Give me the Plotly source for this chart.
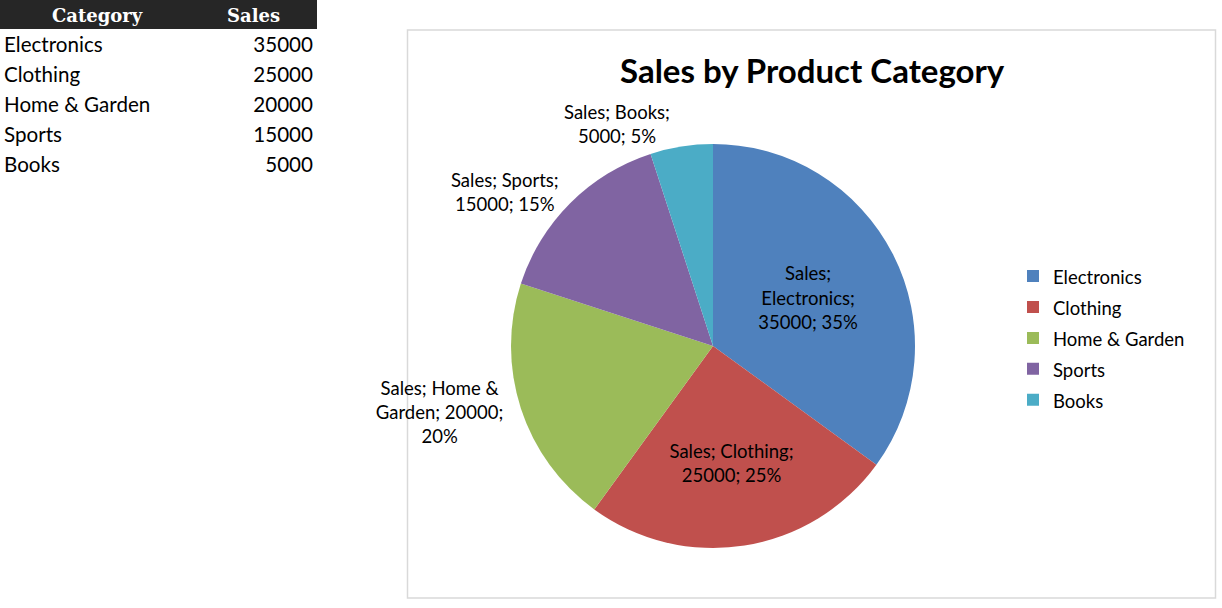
import textwrap
import plotly.graph_objects as go

categories = ["Electronics", "Clothing", "Home & Garden", "Sports", "Books"]
sales = [35000, 25000, 20000, 15000, 5000]
series_name = "Sales"
col_headers = ["Category", "Sales"]
colors = ["#4F81BD", "#C0504D", "#9BBB59", "#8064A2", "#4BACC6"]

# excel-ish data labels: "Sales; Cat; value; pct", wrapped per slice
wrap_widths = [12, 16, 14, 15, 14]
total = sum(sales)
labels_txt = []
for c, v, w in zip(categories, sales, wrap_widths):
    s = "%s; %s; %d; %d%%" % (series_name, c, v, round(100 * v / total))
    labels_txt.append("<br>".join(textwrap.wrap(s, w)))

# legend rows are taller than the text in excel -> big legend font, smaller span
legend_names = ["<span style='font-size:18.5px'>%s</span>" % c for c in categories]

W, H = 1222, 608
ROW = 30  # sheet row height, px
TOP = 32  # where the first sheet row starts
lbl_font = dict(family="Lato", size=18.5, color="black")
cell_font = dict(family="Lato", size=20.6, color="black")

pie = go.Pie(
    labels=legend_names, values=sales, text=labels_txt,
    textinfo="text", sort=False, direction="clockwise", rotation=0,
    marker=dict(colors=colors, line=dict(width=0)),
    textposition=["inside", "inside", "outside", "outside", "outside"],
    insidetextorientation="horizontal",
    textfont=lbl_font, outsidetextfont=lbl_font, insidetextfont=lbl_font,
    domain=dict(x=[(713 - 202) / W, (713 + 202) / W],
                y=[(H - 346 - 202) / H, (H - 346 + 202) / H]),
    hovertemplate="%{text}<extra></extra>",
)

# worksheet cells as text on a hidden axis (one unit = one sheet row)
rows = list(range(len(categories)))
names_tr = go.Scatter(x=[4] * len(rows), y=rows, text=categories, mode="text",
                      textposition="middle right", textfont=cell_font,
                      showlegend=False, hoverinfo="skip")
vals_tr = go.Scatter(x=[313] * len(rows), y=rows, text=[str(v) for v in sales],
                     mode="text", textposition="middle left", textfont=cell_font,
                     showlegend=False, hoverinfo="skip")

fig = go.Figure(data=[names_tr, vals_tr, pie])
n_rows = (H - TOP) / ROW
fig.update_layout(
    width=W, height=H,
    margin=dict(l=0, r=0, t=0, b=0),
    paper_bgcolor="white", plot_bgcolor="white",
    showlegend=True,
    legend=dict(x=1013 / W, y=1 - 338 / H, xanchor="left", yanchor="middle",
                font=dict(family="Lato", size=21.5, color="black")),
    xaxis=dict(domain=[0, 317 / W], range=[0, 317], visible=False, fixedrange=True),
    yaxis=dict(domain=[0, 1 - TOP / H], range=[n_rows - 0.5, -0.5], visible=False,
               fixedrange=True),
)

# header bar of the sheet table
fig.add_shape(type="rect", xref="paper", yref="paper",
              x0=0, x1=317 / W, y0=1 - 29 / H, y1=1,
              fillcolor="#262626", line=dict(width=0))
for name, cx in zip(col_headers, [97, 254]):
    fig.add_annotation(text="<b>%s</b>" % name, xref="paper", yref="paper",
                       x=cx / W, y=1 - 15 / H, xanchor="center", yanchor="middle",
                       showarrow=False,
                       font=dict(family="DejaVu Serif", size=18, color="white"))

# chart area border
fig.add_shape(type="rect", xref="paper", yref="paper",
              x0=407.5 / W, x1=1215.5 / W, y0=1 - 598 / H, y1=1 - 30 / H,
              line=dict(color="#D9D9D9", width=1.5), layer="below")
fig.add_annotation(text="<b>Sales by Product Category</b>", xref="paper", yref="paper",
                   x=812 / W, y=1 - 70 / H, xanchor="center", yanchor="middle",
                   showarrow=False,
                   font=dict(family="Lato", size=33, color="black"))

fig.write_html("out.html", config={"displayModeBar": False},
               post_script="document.body.style.margin='0';")
